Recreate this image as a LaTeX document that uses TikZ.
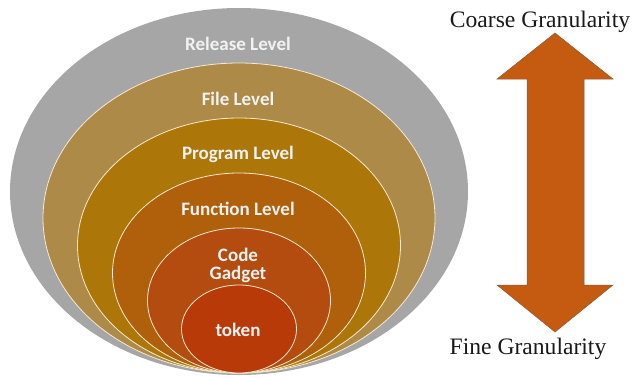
\documentclass[tikz,border=0pt]{standalone}
\usepackage{fontspec}
\setmainfont{Liberation Serif}
\newfontfamily\levelfont{Carlito}
\definecolor{ringgray}{HTML}{A6A6A6}
\definecolor{ringfile}{HTML}{AE8A48}
\definecolor{ringprog}{HTML}{AD7608}
\definecolor{ringfunc}{HTML}{B0600A}
\definecolor{ringcode}{HTML}{B54C0F}
\definecolor{ringtoken}{HTML}{B83A08}
\definecolor{arrowfill}{HTML}{C55A11}
\definecolor{arrowedge}{HTML}{8E5A3C}
\definecolor{ringedge}{HTML}{F6E9CF}
\begin{document}
\begin{tikzpicture}[x=1pt,y=-1pt,
  ring/.style={fill=#1,draw=ringedge,line width=0.8pt},
  lvl/.style={text=white!95!black,font=\levelfont\bfseries\fontsize{19}{18.5}\selectfont,align=center,inner sep=0pt},
  gran/.style={font=\fontsize{23.6}{26}\selectfont,inner sep=0pt,text=black!90}]
\useasboundingbox (0,0) rectangle (633,376);
% nested levels, all resting on the same bottom point
\fill[ringgray] (239,191.5) ellipse [x radius=229,y radius=183.5];
\draw[ring=ringfile]  (239,218)   ellipse [x radius=196,  y radius=155];
\draw[ring=ringprog]  (239,245.5) ellipse [x radius=161.5,y radius=127.5];
\draw[ring=ringfunc]  (239,273)   ellipse [x radius=126.5,y radius=100];
\draw[ring=ringcode]  (239,300.5) ellipse [x radius=91.5, y radius=72.5];
\draw[ring=ringtoken] (239,329)   ellipse [x radius=57.5, y radius=44];
% level labels
\node[lvl] (release) at (238,44)  {Release Level};
\node[lvl] (file)    at (238,99)  {File Level};
\node[lvl] (program) at (238,154) {Program Level};
\node[lvl] (function) at (238,209) {Function Level};
\node[lvl] (gadget)  at (238,265.5) {Code\\Gadget};
\node[lvl] (token)   at (238,330) {token};
% granularity scale
\draw[fill=arrowfill,draw=arrowedge,line width=0.5pt]
  (555,33) -- (613,79) -- (584,79) -- (584,285) -- (613,285) -- (555,332)
  -- (497,285) -- (527,285) -- (527,79) -- (497,79) -- cycle;
\node[gran] (coarse) at (540,22)  {Coarse Granularity};
\node[gran] (fine)   at (528,349) {Fine Granularity};
\end{tikzpicture}
\end{document}
